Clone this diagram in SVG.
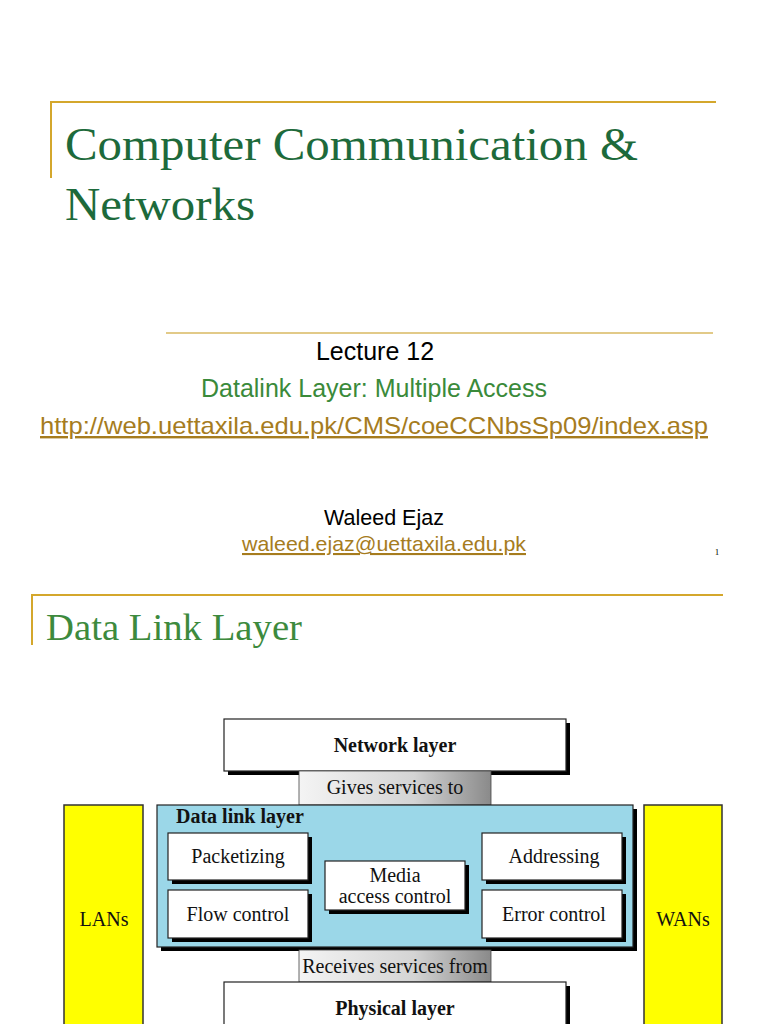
<svg xmlns="http://www.w3.org/2000/svg" width="768" height="1024" viewBox="0 0 768 1024">
<defs>
<linearGradient id="grey" x1="0" y1="0" x2="1" y2="0">
<stop offset="0" stop-color="#f4f4f4"/>
<stop offset="0.6" stop-color="#d4d4d4"/>
<stop offset="1" stop-color="#8a8a8a"/>
</linearGradient>
<style>
.gold{stroke:#d4a72c;stroke-width:2;fill:none}
.ttl{font-family:"Liberation Serif",serif;fill:#1d6a3b}
.sans{font-family:"Liberation Sans",Arial,sans-serif}
.box{fill:#fff;stroke:#222;stroke-width:1.2}
.sh{fill:#000}
.t{font-family:"Liberation Serif","Times New Roman",serif;font-size:20px;fill:#111;text-anchor:middle}
.tl{font-family:"Liberation Serif","Times New Roman",serif;font-size:20px;fill:#111;font-weight:bold}
.b{font-weight:bold}
.link{fill:#a67c1e;text-decoration:underline}
</style>
</defs>
<rect width="768" height="1024" fill="#fff"/>
<!-- Slide 1 -->
<path class="gold" d="M50 102H716M51 102V178"/>
<text class="ttl" x="65" y="160" font-size="46" textLength="573" lengthAdjust="spacingAndGlyphs">Computer Communication &amp;</text>
<text class="ttl" x="65" y="220" font-size="46" textLength="190" lengthAdjust="spacingAndGlyphs">Networks</text>
<path d="M166 333H713" stroke="#d8b860" stroke-width="1.5"/>
<text class="sans" x="375" y="360" font-size="25" text-anchor="middle" fill="#000">Lecture 12</text>
<text class="sans" x="374" y="397" font-size="25" text-anchor="middle" fill="#3a8a3a">Datalink Layer: Multiple Access</text>
<text class="sans link" x="40" y="434" font-size="24" textLength="668" lengthAdjust="spacingAndGlyphs">http://web.uettaxila.edu.pk/CMS/coeCCNbsSp09/index.asp</text>
<text class="sans" x="384" y="525" font-size="21.5" text-anchor="middle" fill="#000">Waleed Ejaz</text>
<text class="sans link" x="242" y="551" font-size="21" textLength="284" lengthAdjust="spacingAndGlyphs">waleed.ejaz@uettaxila.edu.pk</text>
<text x="717" y="555" font-size="9" font-family="Liberation Serif,serif" text-anchor="middle" fill="#000">1</text>
<!-- Slide 2 -->
<path class="gold" d="M31 595H723M32 595V645"/>
<text x="46" y="640" font-size="37" font-family="Liberation Serif,serif" fill="#3d8a3d" textLength="256" lengthAdjust="spacingAndGlyphs">Data Link Layer</text>
<!-- Diagram -->
<g id="lans">
<rect x="64" y="805" width="79" height="225" fill="#ffff00" stroke="#333" stroke-width="1.5"/>
<text class="t" x="104" y="926">LANs</text>
</g>
<g id="wans">
<rect x="644" y="805" width="78" height="225" fill="#ffff00" stroke="#333" stroke-width="1.5"/>
<text class="t" x="683" y="926">WANs</text>
</g>
<g id="network-layer">
<rect class="sh" x="228" y="723" width="342" height="52"/>
<rect class="box" x="224" y="719" width="342" height="52"/>
<text class="t b" x="395" y="752">Network layer</text>
</g>
<g id="gives-services">
<rect x="299" y="771" width="192" height="34" fill="url(#grey)" stroke="#444" stroke-width="0.8"/>
<text class="t" x="395" y="794">Gives services to</text>
</g>
<g id="data-link-layer">
<rect class="sh" x="161" y="809" width="476" height="142"/>
<rect x="157" y="805" width="476" height="142" fill="#9bd7e8" stroke="#222" stroke-width="1.2"/>
<text class="tl" x="176" y="823">Data link layer</text>
</g>
<g id="packetizing">
<rect class="sh" x="172" y="837" width="140" height="47"/>
<rect class="box" x="168" y="833" width="140" height="47"/>
<text class="t" x="238" y="863">Packetizing</text>
</g>
<g id="flow-control">
<rect class="sh" x="172" y="894" width="140" height="48"/>
<rect class="box" x="168" y="890" width="140" height="48"/>
<text class="t" x="238" y="921">Flow control</text>
</g>
<g id="media-access-control">
<rect class="sh" x="329" y="865" width="140" height="49"/>
<rect class="box" x="325" y="861" width="140" height="49"/>
<text class="t" x="395" y="882">Media</text>
<text class="t" x="395" y="903">access control</text>
</g>
<g id="addressing">
<rect class="sh" x="486" y="837" width="140" height="47"/>
<rect class="box" x="482" y="833" width="140" height="47"/>
<text class="t" x="554" y="863">Addressing</text>
</g>
<g id="error-control">
<rect class="sh" x="486" y="894" width="140" height="48"/>
<rect class="box" x="482" y="890" width="140" height="48"/>
<text class="t" x="554" y="921">Error control</text>
</g>
<g id="receives-services">
<rect x="299" y="950" width="192" height="32" fill="url(#grey)" stroke="#444" stroke-width="0.8"/>
<text class="t" x="395" y="973">Receives services from</text>
</g>
<g id="physical-layer">
<rect class="sh" x="228" y="986" width="342" height="50"/>
<rect class="box" x="224" y="982" width="342" height="50"/>
<text class="t b" x="395" y="1015">Physical layer</text>
</g>
<g id="connectors"></g>
</svg>
